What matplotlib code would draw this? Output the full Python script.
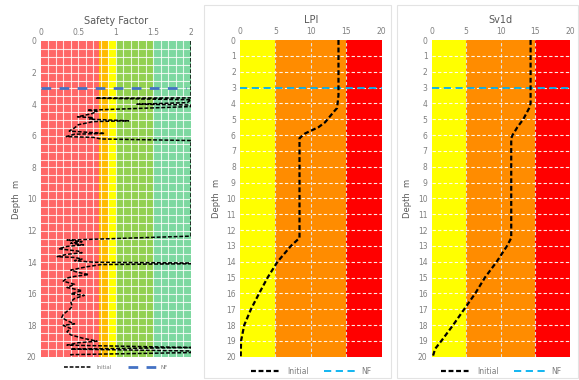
import numpy as np
import matplotlib.pyplot as plt
from matplotlib.patches import Rectangle

# safety factor profile (depth m, FS)
sf_depth = [0, 3.6, 3.62, 3.72, 3.9, 4.0, 4.05, 4.15, 4.38, 4.45, 4.6, 4.8, 4.85, 4.95, 5.05,
            5.1, 5.3, 5.5, 5.7, 5.85, 5.9, 6.05, 6.1, 6.2, 6.3, 12.35, 12.6, 12.7, 12.8, 12.9,
            13.0, 13.15, 13.3, 13.4, 13.5, 13.65, 13.7, 13.8, 13.9, 14.0, 14.05, 14.1, 14.15,
            14.3, 14.5, 14.65, 14.78, 14.9, 15.0, 15.2, 15.4, 15.6, 15.8, 16.0, 16.1, 16.3,
            16.5, 16.8, 17.0, 17.3, 17.5, 17.7, 17.9, 18.0, 18.2, 18.4, 18.6, 18.8, 19.0,
            19.1, 19.25, 19.4, 19.5, 19.62, 19.72, 19.85, 20.0]
sf_value = [2.0, 2.0, 0.73, 2.0, 1.95, 1.28, 2.0, 2.0, 0.62, 0.75, 0.68, 0.49, 0.7, 0.65, 1.17,
            0.7, 0.5, 0.45, 0.38, 0.85, 0.45, 0.34, 0.7, 0.8, 2.0, 2.0, 0.35, 0.55, 0.4, 0.57,
            0.35, 0.24, 0.5, 0.55, 0.35, 0.22, 0.45, 0.55, 0.45, 0.7, 2.0, 2.0, 0.8,
            0.6, 0.4, 0.5, 0.64, 0.45, 0.35, 0.3, 0.45, 0.35, 0.55, 0.4, 0.58, 0.45,
            0.4, 0.42, 0.38, 0.3, 0.28, 0.35, 0.45, 0.3, 0.4, 0.35, 0.4, 0.55, 0.75,
            0.5, 0.35, 2.0, 0.4, 2.0, 2.0, 0.4, 0.4]

# liquefaction potential index
lpi_depth = [0, 3.5, 4.3, 4.5, 5.2, 5.5, 5.9, 6.2, 12.5, 13, 14, 15, 16, 17, 18, 19, 20]
lpi_value = [13.9, 13.9, 13.7, 13.3, 12.0, 11.1, 9.2, 8.4, 8.4, 7.2, 5.3, 3.9, 2.7, 1.55, 0.6, 0.15, 0.1]

# one-dimensional settlement
sv_depth = [0, 4.0, 4.3, 5.0, 5.5, 6.0, 6.2, 12.5, 13, 14, 15, 16, 17, 18, 19, 19.5, 20]
sv_value = [14.3, 14.3, 14.1, 13.25, 12.4, 11.7, 11.5, 11.5, 10.9, 9.4, 7.7, 6.3, 4.7, 3.1, 1.4, 0.5, 0.15]

nf_depth = 3.0

sf_zones = [(0, 0.77, '#FF6666'), (0.77, 0.9, '#FFBA00'), (0.9, 1.0, '#FFFF00'),
            (1.0, 1.5, '#92D050'), (1.5, 2.0, '#7DD8A0')]
idx_zones = [(0, 5, '#FFFF00'), (5, 15, '#FF8C00'), (15, 20, '#FF0000')]

grey = '#7F7F7F'
fig = plt.figure(figsize=(5.79, 3.80), dpi=100)

# chart frames
for x0, x1 in [(204, 391), (397, 578)]:
    fig.patches.append(Rectangle((x0 / 579, 2 / 380), (x1 - x0) / 579, 373 / 380,
                                 transform=fig.transFigure, fill=False,
                                 edgecolor='#E3E3E3', lw=0.8))


def setup(ax, title, xmax, xticks, xlabels, yticks):
    ax.set_xlim(0, xmax)
    ax.set_ylim(20, 0)
    ax.xaxis.tick_top()
    ax.set_xticks(xticks)
    ax.set_xticklabels(xlabels)
    ax.set_yticks(yticks)
    ax.tick_params(length=0, labelsize=5.5, colors=grey, pad=3)
    for s in ax.spines.values():
        s.set_visible(False)
    ax.set_title(title, fontsize=7, color='#595959', pad=12)
    ax.set_ylabel('Depth  m', fontsize=6, color='#595959', labelpad=4)


# Safety factor
ax1 = fig.add_axes([40.7 / 579, 23 / 380, 150.3 / 579, 316 / 380])
for a, b, c in sf_zones:
    ax1.axvspan(a, b, color=c, lw=0, zorder=0)
for x in np.arange(0.1, 2.0, 0.1):
    ax1.axvline(x, color='white', lw=0.8, alpha=0.8, zorder=1)
for y in np.arange(0.5, 20, 0.5):
    ax1.axhline(y, color='white', lw=0.8, alpha=0.8, zorder=1)
ax1.plot(sf_value, sf_depth, color='black', lw=1.1, dashes=(2.5, 1.2), label='Initial', zorder=3)
ax1.axhline(nf_depth, xmax=0.97, color='#4472C4', lw=2, dashes=(3.5, 3), label='NF', zorder=2)
setup(ax1, 'Safety Factor', 2, [0, 0.5, 1, 1.5, 2], ['0', '0.5', '1', '1.5', '2'], range(0, 21, 2))
ax1.legend(loc='upper center', bbox_to_anchor=(0.5, -0.01), ncol=2, frameon=False,
           fontsize=4, labelcolor=grey, handlelength=5, columnspacing=3)

# LPI and Sv1d
panels = [('LPI', lpi_value, lpi_depth, 240, 381.7),
          ('Sv1d', sv_value, sv_depth, 431.7, 570)]
for title, vals, deps, x0, x1 in panels:
    ax = fig.add_axes([x0 / 579, 23.3 / 380, (x1 - x0) / 579, 316.7 / 380])
    for a, b, c in idx_zones:
        ax.axvspan(a, b, color=c, lw=0, zorder=0)
    for x in [5, 10, 15]:
        ax.axvline(x, color='#E0E0E0', lw=0.8, dashes=(3, 2), zorder=1)
    for y in range(1, 20):
        ax.axhline(y, color='white', lw=0.8, dashes=(3, 2), alpha=0.9, zorder=1)
    ax.plot(vals, deps, color='black', lw=1.6, dashes=(2.2, 1.2), label='Initial', zorder=3)
    ax.axhline(nf_depth, color='#00B0F0', lw=1.3, dashes=(4, 2.5), label='NF', zorder=2)
    setup(ax, title, 20, [0, 5, 10, 15, 20], ['0', '5', '10', '15', '20'], range(0, 21))
    ax.legend(loc='upper center', bbox_to_anchor=(0.5, -0.01), ncol=2, frameon=False,
              fontsize=5.5, labelcolor=grey, handlelength=4, columnspacing=2)

fig.savefig('out.png', dpi=100)
